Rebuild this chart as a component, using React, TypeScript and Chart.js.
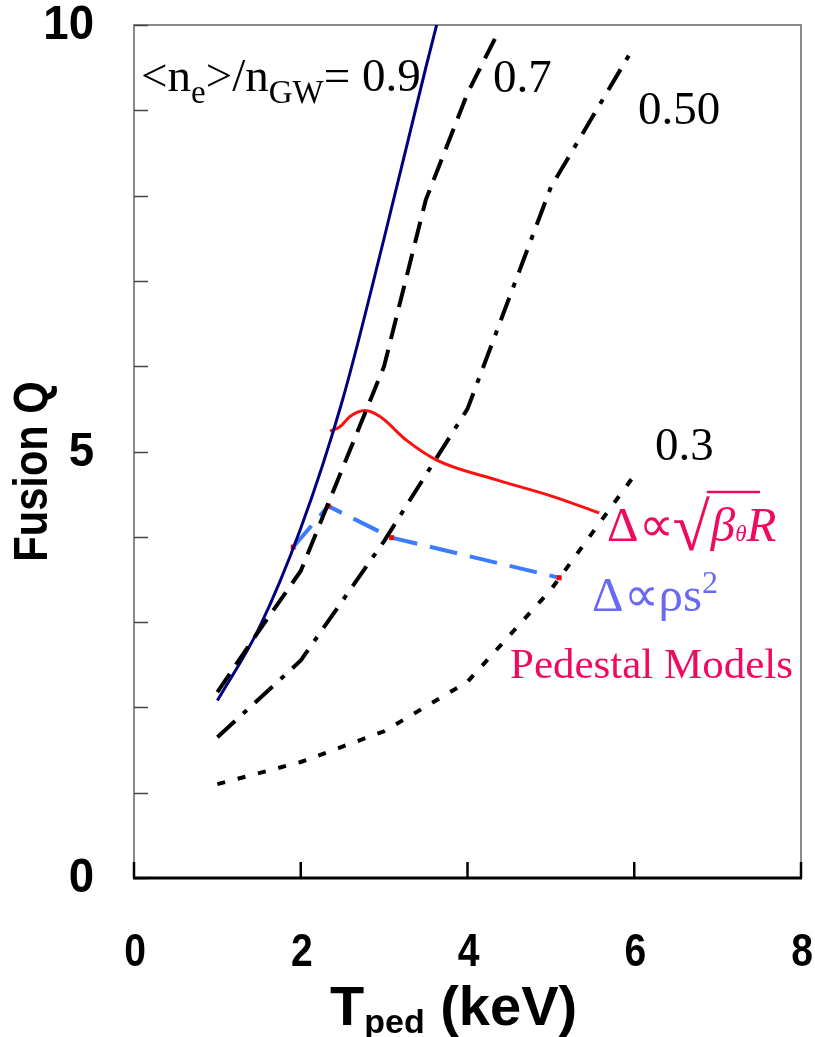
import React, { useEffect, useRef } from 'react';
import { Chart, registerables } from 'chart.js';

Chart.register(...registerables);

// <ne>/nGW = 0.9
const tPed09 = [1.0, 1.5, 2.0, 2.5, 3.0, 3.5, 3.63];
const q09 = [2.08, 2.93, 4.1, 5.6, 7.5, 9.5, 10.0];
// 0.7
const tPed07 = [1.0, 1.5, 2.0, 2.5, 3.0, 3.5, 4.0, 4.35];
const q07 = [2.18, 2.9, 3.6, 4.8, 6.0, 7.95, 9.2, 9.88];
// 0.50
const tPed05 = [1.0, 2.0, 3.0, 4.0, 5.0, 6.0];
const q05 = [1.65, 2.55, 3.95, 5.5, 8.1, 9.75];
// 0.3
const tPed03 = [1.0, 2.0, 3.0, 4.0, 5.0, 6.0];
const q03 = [1.1, 1.36, 1.72, 2.3, 3.38, 4.72];
// pedestal model: Delta ~ sqrt(beta_theta) R
const tPedBeta = [2.35, 2.47, 2.59, 2.77, 2.95, 3.27, 3.63, 4.34, 5.0, 5.58];
const qBeta = [5.24, 5.29, 5.41, 5.48, 5.41, 5.13, 4.9, 4.67, 4.48, 4.28];
// pedestal model: Delta ~ rho s^2
const tPedRho = [1.91, 2.33, 3.09, 5.1];
const qRho = [3.88, 4.36, 3.99, 3.52];

const xTicks = [0, 2, 4, 6, 8];
const yTickLabels = [0, 5, 10];
const yMinorTicks = [0, 1, 2, 3, 4, 5, 6, 7, 8, 9, 10];

const pts = (xs: number[], ys: number[]) => xs.map((x, i) => ({ x, y: ys[i] }));

const PINK = 'rgb(240,10,95)';
const LBLUE = 'rgb(105,105,245)';
const SERIF = '"Liberation Serif", "Times New Roman", serif';
const SANS = '"Liberation Sans", Arial, sans-serif';

type Run = { t: string; f: string; dy?: number };
function drawRuns(ctx: CanvasRenderingContext2D, x: number, y: number, runs: Run[], color: string) {
  ctx.save();
  ctx.fillStyle = color;
  ctx.textAlign = 'left';
  ctx.textBaseline = 'alphabetic';
  let cx = x;
  for (const r of runs) {
    ctx.font = r.f;
    ctx.fillText(r.t, cx, y + (r.dy || 0));
    cx += ctx.measureText(r.t).width;
  }
  ctx.restore();
  return cx;
}

function squeezeText(ctx: CanvasRenderingContext2D, text: string, x: number, y: number, font: string, sx: number, align: CanvasTextAlign, base: CanvasTextBaseline, rot = 0) {
  ctx.save();
  ctx.translate(x, y);
  if (rot) ctx.rotate(rot);
  ctx.scale(sx, 1);
  ctx.font = font;
  ctx.textAlign = align;
  ctx.textBaseline = base;
  ctx.fillStyle = '#000';
  ctx.fillText(text, 0, 0);
  ctx.restore();
}

const framePlugin = {
  id: 'frame',
  beforeDatasetsDraw(chart: any) {
    const { ctx, chartArea: a, scales } = chart;
    const xs = scales.x, ys = scales.y;
    ctx.save();
    ctx.lineCap = 'butt';
    ctx.strokeStyle = '#8a8a8a';
    ctx.lineWidth = 2;
    ctx.beginPath();
    ctx.moveTo(a.left, a.bottom);
    ctx.lineTo(a.left, a.top);
    ctx.lineTo(a.right, a.top);
    ctx.lineTo(a.right, a.bottom);
    ctx.stroke();
    ctx.strokeStyle = '#444';
    ctx.lineWidth = 1.5;
    for (const v of yMinorTicks) {
      const py = Math.round(ys.getPixelForValue(v)) + 0.5;
      ctx.beginPath();
      ctx.moveTo(a.left, py);
      ctx.lineTo(a.left + 14, py);
      ctx.stroke();
    }
    ctx.strokeStyle = '#000';
    ctx.lineWidth = 3;
    ctx.beginPath();
    ctx.moveTo(a.left - 1, a.bottom);
    ctx.lineTo(a.right + 1, a.bottom);
    ctx.stroke();
    ctx.lineWidth = 2.5;
    for (const v of xTicks) {
      const px = xs.getPixelForValue(v);
      ctx.beginPath();
      ctx.moveTo(px, a.bottom);
      ctx.lineTo(px, a.bottom - 16);
      ctx.stroke();
    }
    ctx.restore();
  },
  afterDatasetsDraw(chart: any) {
    const { ctx, chartArea: a, scales } = chart;
    const xs = scales.x, ys = scales.y;
    for (const v of yTickLabels) {
      squeezeText(ctx, String(v), 94, ys.getPixelForValue(v) + 1, `bold 48px ${SANS}`, 0.95, 'right', 'middle');
    }
    for (const v of xTicks) {
      squeezeText(ctx, String(v), xs.getPixelForValue(v) + 1, 953, `bold 46px ${SANS}`, 0.85, 'center', 'middle');
    }
    squeezeText(ctx, 'Fusion Q', 33, (a.top + a.bottom) / 2 + 20, `bold 49px ${SANS}`, 0.85, 'center', 'middle', -Math.PI / 2);
    drawRuns(ctx, 330, 1025, [
      { t: 'T', f: `bold 56px ${SANS}` },
      { t: 'ped', f: `bold 34px ${SANS}`, dy: 8 },
      { t: ' (keV)', f: `bold 56px ${SANS}` },
    ], '#000');
    drawRuns(ctx, 141, 91, [
      { t: '<n', f: `47px ${SERIF}` },
      { t: 'e', f: `33px ${SERIF}`, dy: 12 },
      { t: '>/n', f: `47px ${SERIF}` },
      { t: 'GW', f: `33px ${SERIF}`, dy: 12 },
      { t: '= 0.9', f: `47px ${SERIF}` },
    ], '#000');
    drawRuns(ctx, 493, 92, [{ t: '0.7', f: `47px ${SERIF}` }], '#000');
    drawRuns(ctx, 638, 124, [{ t: '0.50', f: `47px ${SERIF}` }], '#000');
    drawRuns(ctx, 655, 460, [{ t: '0.3', f: `47px ${SERIF}` }], '#000');
    const x1 = drawRuns(ctx, 607, 541, [{ t: 'Δ∝', f: `49px ${SERIF}` }], PINK);
    ctx.save();
    ctx.fillStyle = PINK;
    ctx.font = `68px ${SERIF}`;
    ctx.textBaseline = 'alphabetic';
    ctx.fillText('√', x1 - 1, 550);
    const rw = ctx.measureText('√').width;
    ctx.strokeStyle = PINK;
    ctx.lineWidth = 2.5;
    ctx.beginPath();
    ctx.moveTo(x1 - 1 + rw - 3, 492);
    ctx.lineTo(760, 492);
    ctx.stroke();
    ctx.restore();
    drawRuns(ctx, x1 + rw, 541, [
      { t: 'β', f: `italic 49px ${SERIF}` },
      { t: 'θ', f: `italic 23px ${SERIF}`, dy: 0 },
      { t: 'R', f: `italic 49px ${SERIF}` },
    ], PINK);
    drawRuns(ctx, 592, 611, [
      { t: 'Δ∝ρs', f: `49px ${SERIF}` },
      { t: '2', f: `32px ${SERIF}`, dy: -18 },
    ], LBLUE);
    drawRuns(ctx, 510, 678, [{ t: 'Pedestal Models', f: `43px ${SERIF}` }], PINK);
  },
};

export default function App() {
  const ref = useRef<HTMLCanvasElement>(null);
  useEffect(() => {
    document.body.style.margin = '0';
    const common = { showLine: true, pointRadius: 0, fill: false, borderCapStyle: 'butt' as const };
    const chart = new Chart(ref.current!, {
      type: 'scatter',
      data: {
        datasets: [
          { ...common, label: '0.3', data: pts(tPed03, q03), borderColor: '#000', borderWidth: 4, borderDash: [8, 13] },
          { ...common, label: '0.50', data: pts(tPed05, q05), borderColor: '#000', borderWidth: 4, borderDash: [24, 11, 5, 11] },
          { ...common, label: '0.7', data: pts(tPed07, q07), borderColor: '#000', borderWidth: 4, borderDash: [22, 11] },
          { ...common, label: '0.9', data: pts(tPed09, q09), borderColor: '#000080', borderWidth: 3, cubicInterpolationMode: 'monotone' },
          { ...common, label: 'sqrt', data: pts(tPedBeta, qBeta), borderColor: '#ff1010', borderWidth: 3, cubicInterpolationMode: 'monotone' },
          { ...common, label: 'rho', data: pts(tPedRho, qRho), borderColor: 'rgb(60,125,255)', borderWidth: 4, borderDash: [28, 13],
            pointRadius: 3.5, pointStyle: 'rect', pointBackgroundColor: '#ff0000', pointBorderWidth: 0, pointBorderColor: '#ff0000' },
        ],
      },
      options: {
        responsive: false,
        animation: false,
        devicePixelRatio: 1,
        layout: { padding: { left: 134, right: 14, top: 25, bottom: 159 } },
        scales: {
          x: { type: 'linear', min: 0, max: 8, display: false },
          y: { type: 'linear', min: 0, max: 10, display: false },
        },
        plugins: { legend: { display: false }, tooltip: { enabled: false } },
      },
      plugins: [framePlugin],
    } as any);
    return () => chart.destroy();
  }, []);
  return <canvas ref={ref} width={815} height={1037} style={{ display: 'block' }} />;
}
